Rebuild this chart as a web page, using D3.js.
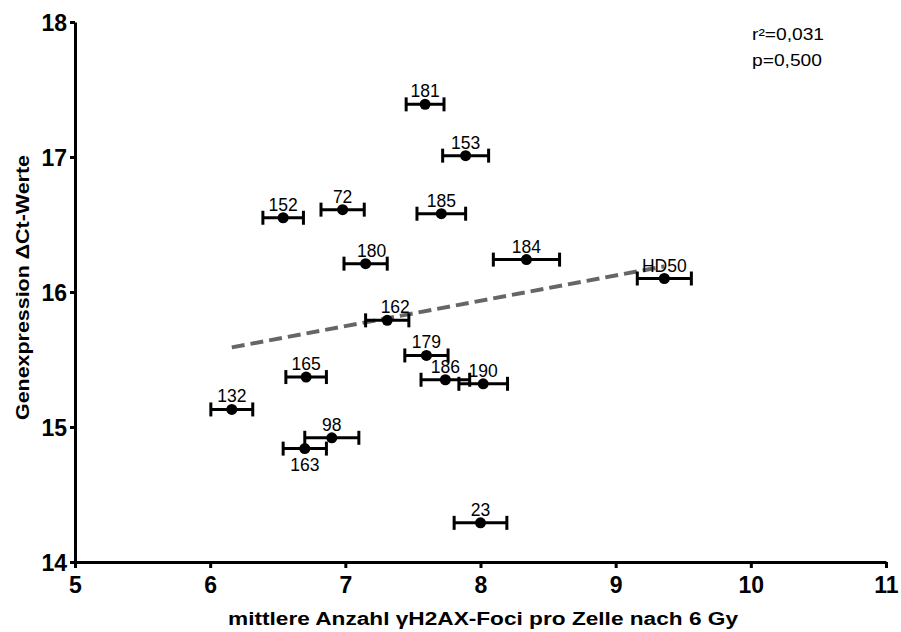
<!DOCTYPE html>
<html>
<head>
<meta charset="utf-8">
<script src="https://cdn.jsdelivr.net/npm/d3@7"></script>
<style>
  html, body { margin: 0; padding: 0; background: #fff; }
  svg { display: block; font-family: "Liberation Sans", Arial, sans-serif; }
</style>
</head>
<body>
<svg id="chart" width="901" height="632"></svg>
<script>
// ---- data ----
const labels = ["181","153","152","72","185","184","180","162","HD50","179","165","186","190","132","98","163","23"];
const fociMean = [7.59, 7.89, 6.54, 6.98, 7.71, 8.34, 7.15, 7.31, 9.36, 7.60, 6.71, 7.74, 8.02, 6.16, 6.90, 6.70, 8.00];
const fociErr  = [0.14, 0.17, 0.15, 0.16, 0.18, 0.245, 0.16, 0.16, 0.20, 0.16, 0.15, 0.18, 0.18, 0.155, 0.20, 0.16, 0.195];
const deltaCt  = [17.39, 17.01, 16.55, 16.61, 16.58, 16.24, 16.21, 15.79, 16.10, 15.53, 15.37, 15.35, 15.32, 15.13, 14.92, 14.84, 14.29];
const fitX = [6.16, 9.36];
const fitY = [15.59, 16.19];
const xTicks = [5, 6, 7, 8, 9, 10, 11];
const yTicks = [14, 15, 16, 17, 18];
const statsText = ["r²=0,031", "p=0,500"];
const xTitle = "mittlere Anzahl γH2AX-Foci pro Zelle nach 6 Gy";
const yTitle = "Genexpression ΔCt-Werte";

// label placement tweaks (style only)
const labelDx = { "180": 6, "162": 8 };
const labelBelow = { "163": true };

const svg = d3.select("#chart");
const x = d3.scaleLinear().domain([5, 11]).range([75, 886]);
const y = d3.scaleLinear().domain([14, 18]).range([562, 22]);

// axes
const xAxis = svg.append("g").attr("transform", `translate(0,${y(14)})`)
  .call(d3.axisBottom(x).tickValues(xTicks).tickSize(6).tickSizeOuter(0).tickPadding(8).tickFormat(d3.format("d")));
const yAxis = svg.append("g").attr("transform", `translate(${x(5)},0)`)
  .call(d3.axisLeft(y).tickValues(yTicks).tickSize(5).tickSizeOuter(0).tickPadding(3).tickFormat(d3.format("d")));
[xAxis, yAxis].forEach(g => {
  g.select(".domain").attr("stroke", "#000").attr("stroke-width", 3);
  g.selectAll(".tick line").attr("stroke", "#000").attr("stroke-width", 3);
  g.selectAll(".tick text").attr("fill", "#000")
    .style("font-family", "'Liberation Sans', Arial, sans-serif")
    .style("font-size", "23px").style("font-weight", "bold");
});
yAxis.selectAll(".tick text").attr("dy", "0.36em");
xAxis.selectAll(".tick text").attr("dy", "0.72em");

// regression line
svg.append("line")
  .attr("x1", x(fitX[0])).attr("y1", y(fitY[0]))
  .attr("x2", x(fitX[1])).attr("y2", y(fitY[1]))
  .attr("stroke", "#666").attr("stroke-width", 4)
  .attr("stroke-dasharray", "13,6");

// points with horizontal error bars
const data = labels.map((l, i) => ({ label: l, x: fociMean[i], e: fociErr[i], y: deltaCt[i] }));
const pts = svg.append("g").selectAll("g").data(data).join("g");
pts.append("line")
  .attr("x1", d => x(d.x - d.e)).attr("x2", d => x(d.x + d.e))
  .attr("y1", d => y(d.y)).attr("y2", d => y(d.y))
  .attr("stroke", "#000").attr("stroke-width", 3);
pts.append("line")
  .attr("x1", d => x(d.x - d.e)).attr("x2", d => x(d.x - d.e))
  .attr("y1", d => y(d.y) - 7).attr("y2", d => y(d.y) + 7)
  .attr("stroke", "#000").attr("stroke-width", 3);
pts.append("line")
  .attr("x1", d => x(d.x + d.e)).attr("x2", d => x(d.x + d.e))
  .attr("y1", d => y(d.y) - 7).attr("y2", d => y(d.y) + 7)
  .attr("stroke", "#000").attr("stroke-width", 3);
pts.append("circle")
  .attr("cx", d => x(d.x)).attr("cy", d => y(d.y)).attr("r", 5.5)
  .attr("fill", "#000");
pts.append("text")
  .attr("x", d => x(d.x) + (labelDx[d.label] || 0))
  .attr("y", d => labelBelow[d.label] ? y(d.y) + 22 : y(d.y) - 7)
  .attr("text-anchor", "middle")
  .style("font-size", "17.5px").attr("fill", "#000")
  .text(d => d.label);

// stats text (horizontally widened like the reference)
svg.append("g").selectAll("text").data(statsText).join("text")
  .attr("x", 752).attr("y", (d, i) => 40 + i * 25.5)
  .style("font-size", "16px").attr("fill", "#000")
  .text(d => d)
  .each(function() {
    const w = this.getComputedTextLength();
    d3.select(this).attr("textLength", w * 1.2).attr("lengthAdjust", "spacingAndGlyphs");
  });

// axis titles
const xt = svg.append("text")
  .attr("x", 483).attr("y", 625)
  .attr("text-anchor", "middle")
  .style("font-size", "18px").style("font-weight", "bold")
  .text(xTitle);
xt.attr("textLength", 510).attr("lengthAdjust", "spacingAndGlyphs");

const yt = svg.append("text")
  .attr("transform", `translate(29,287.5) rotate(-90)`)
  .attr("text-anchor", "middle")
  .style("font-size", "18px").style("font-weight", "bold")
  .text(yTitle);
yt.attr("textLength", 265).attr("lengthAdjust", "spacingAndGlyphs");
</script>
</body>
</html>
